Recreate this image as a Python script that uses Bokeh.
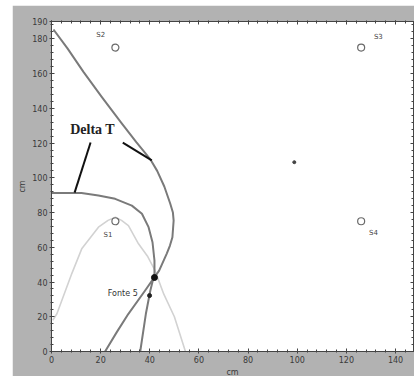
from bokeh.plotting import figure
from bokeh.layouts import row, column
from bokeh.models import Range1d, LinearAxis, FixedTicker, Label, CustomJSTickFormatter, Spacer
from bokeh.core.properties import value
from bokeh.embed import file_html
from bokeh.resources import INLINE

# ---- data ----
outer_x = [0.8, 6.5, 13, 20.5, 28.5, 34.5, 38, 40.5, 43, 45.9, 48.3, 49.4, 49.7, 49.2, 48.2, 46.9, 43.8, 41.9, 38.1, 31.3, 26.5, 21.8]
outer_y = [185.4, 174.5, 161, 146.5, 131.5, 120.5, 114.5, 110, 104, 95, 85.2, 80, 75.4, 65.8, 61, 56.4, 46.6, 42.8, 35.1, 21.7, 11, 0]

inner_x = [0, 12.2, 19.1, 25.9, 32.7, 36.8, 39.5, 41.1, 41.9, 41.9, 40.2, 38.4, 36.1]
inner_y = [91.2, 91.2, 89.8, 87.9, 84, 79.3, 71.6, 62.9, 52.4, 44.7, 35, 21.7, 0]

light_x = [0.5, 2.2, 8.3, 12.3, 19.1, 23, 26, 28.5, 31.3, 35.4, 39, 42, 45.7, 50, 54.5]
light_y = [18, 21.7, 45, 59.1, 71.6, 75.5, 77.3, 75.5, 72.5, 62, 55, 47, 33, 20, 0]

sensor_x = [26, 26, 126, 126]
sensor_y = [75, 175, 175, 75]
sensor_names = ["S1", "S2", "S3", "S4"]
label_x = [23, 20, 133, 131]
label_y = [67, 182, 181, 68.5]

source_x = [39.9]
source_y = [32.2]
cross_x = [41.9]
cross_y = [42.6]
dot_x = [98.8]
dot_y = [109]

leader1_x = [15.9, 9.4]
leader1_y = [120.3, 91.5]
leader2_x = [29, 40.8]
leader2_y = [120.3, 110]

x_ticks = [0, 20, 40, 60, 80, 100, 120, 140]
y_ticks = [0, 20, 40, 60, 80, 100, 120, 140, 160, 180, 190]

GRAY_BG = "#b2b2b2"
TXT = "#3a3a3a"

p = figure(frame_width=362, frame_height=330, output_backend="svg", toolbar_location=None,
           x_range=Range1d(0, 147.3), y_range=Range1d(0, 190),
           x_axis_location=None, y_axis_location=None,
           min_border_left=39, min_border_top=16, min_border_right=0, min_border_bottom=24)
p.border_fill_color = GRAY_BG
p.background_fill_color = "white"
p.outline_line_color = "#555555"
p.xgrid.visible = False
p.ygrid.visible = False

def style_axis(ax, labels=True):
    ax.axis_line_color = "#444444"
    ax.major_tick_line_color = "#444444"
    ax.minor_tick_line_color = "#444444"
    ax.major_tick_in = 3
    ax.major_tick_out = 2
    ax.minor_tick_in = 2
    ax.minor_tick_out = 1
    ax.major_label_text_font = "DejaVu Sans"
    ax.major_label_text_font_size = "8px"
    ax.major_label_text_color = TXT
    ax.major_label_standoff = 2
    ax.axis_label_text_font = "DejaVu Sans"
    ax.axis_label_text_font_size = "8px"
    ax.axis_label_text_font_style = "normal"
    ax.axis_label_text_color = TXT
    ax.axis_label_standoff = 2
    if not labels:
        ax.formatter = CustomJSTickFormatter(code="return '';")
        ax.major_label_text_font_size = "0px"
        ax.major_label_standoff = 0
        ax.axis_label_standoff = 0
        ax.major_tick_out = 1
        ax.minor_tick_out = 1

xt = FixedTicker(ticks=x_ticks, minor_ticks=[v for v in range(0, 150, 4)])
yt = FixedTicker(ticks=y_ticks, minor_ticks=[v for v in range(0, 191, 4)])

bx = LinearAxis(ticker=xt, axis_label="cm")
style_axis(bx)
p.add_layout(bx, "below")
ly = LinearAxis(ticker=yt, axis_label="cm")
style_axis(ly)
p.add_layout(ly, "left")
tx = LinearAxis(ticker=xt)
style_axis(tx, labels=False)
p.add_layout(tx, "above")
ry = LinearAxis(ticker=yt)
style_axis(ry, labels=False)
p.add_layout(ry, "right")

p.line(light_x, light_y, line_color="#d2d2d2", line_width=1.6, line_join="round")
p.line(outer_x, outer_y, line_color="#7a7a7a", line_width=2, line_join="round")
p.line(inner_x, inner_y, line_color="#7a7a7a", line_width=2, line_join="round")

p.line(leader1_x, leader1_y, line_color="#111111", line_width=2)
p.line(leader2_x, leader2_y, line_color="#111111", line_width=2)

p.scatter(sensor_x, sensor_y, marker="circle", size=7, fill_color=None,
          line_color="#6a6a6a", line_width=1.2)
p.text(label_x, label_y, text=sensor_names, text_font=value("DejaVu Sans"),
       text_font_size="7px", text_color="#444444", text_align="center", text_baseline="middle")

p.scatter(cross_x, cross_y, marker="circle", size=6, fill_color="#111111", line_color="#111111")
p.scatter(source_x, source_y, marker="circle", size=4, fill_color="#222222", line_color="#222222")
p.scatter(dot_x, dot_y, marker="circle", size=3, fill_color="#444444", line_color="#444444")
p.text([29], [33.2], text=["Fonte 5"], text_font=value("DejaVu Sans"),
       text_font_size="8px", text_color="#333333", text_align="center", text_baseline="middle")

p.add_layout(Label(x=16.7, y=127.8, text="Delta T", text_font="Liberation Serif",
                   text_font_size="14px", text_font_style="bold", text_color="#222222",
                   text_align="center", text_baseline="middle"))

layout = row(Spacer(width=12, height=376), column(Spacer(width=400, height=5), p))
html = file_html(layout, INLINE)
html = html.replace("<head>", "<head><style>html,body{margin:0;overflow:hidden;}</style>", 1)
open("out.html", "w").write(html)
